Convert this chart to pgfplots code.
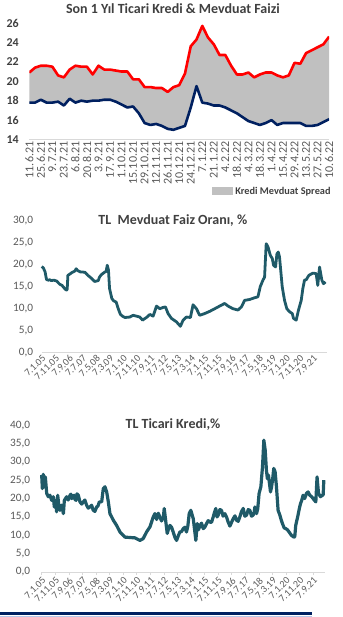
\documentclass[border=0pt]{standalone}
\usepackage{pgfplots}
\pgfplotsset{compat=1.18}
\usepgfplotslibrary{fillbetween}
\usepackage{pgfplotstable}
\usepackage{fontspec}
\setmainfont{Carlito}
\definecolor{spreadgray}{RGB}{192,192,192}
\definecolor{navyline}{RGB}{0,32,96}
\definecolor{teal}{RGB}{31,90,104}
\definecolor{titlegray}{RGB}{64,64,64}
\definecolor{labgray}{RGB}{89,89,89}
\definecolor{axgray}{RGB}{217,217,217}
\definecolor{barnavy}{RGB}{0,32,96}
\definecolor{barlight}{RGB}{180,198,231}

\pgfplotstableread{
k r b
0 20.9 17.8
1 21.4 17.8
2 21.6 18.1
3 21.6 17.8
4 21.5 17.8
5 20.6 17.9
6 20.4 17.5
7 21.2 18.2
8 21.6 17.8
9 21.5 18.0
10 21.5 17.9
11 20.7 18.0
12 21.6 18.0
13 21.2 18.1
14 21.2 18.1
15 21.1 17.9
16 21.0 17.6
17 21.0 17.3
18 20.2 17.4
19 20.2 16.7
20 19.4 15.7
21 19.4 15.5
22 19.3 15.6
23 19.3 15.4
24 18.9 15.1
25 19.4 15.0
26 19.6 15.2
27 20.8 15.4
28 23.6 17.3
29 24.3 19.5
30 25.7 17.8
31 24.5 17.7
32 23.8 17.5
33 22.7 17.5
34 22.7 17.3
35 21.6 17.0
36 20.7 16.7
37 20.7 16.3
38 20.9 15.9
39 20.4 15.7
40 20.7 15.5
41 20.9 15.7
42 20.9 16.0
43 20.6 15.5
44 20.4 15.7
45 20.6 15.7
46 21.9 15.7
47 21.8 15.7
48 22.9 15.4
49 23.2 15.4
50 23.5 15.5
51 23.8 15.8
52 24.6 16.1
}\tabA

\pgfplotstableread{
m v
0.0 19.6
1.2 19.3
2.5 18.4
3.4 16.9
3.7 16.6
5.0 16.5
6.1 16.6
7.0 16.4
9.0 16.5
11.0 16.3
13.2 15.6
15.0 15.3
16.9 14.6
18.1 14.2
18.8 14.4
19.3 17.6
20.8 17.9
22.1 18.2
24.5 18.6
25.4 19.1
26.5 18.7
28.2 18.4
31.9 18.3
34.0 17.6
36.8 16.9
39.0 16.2
41.7 16.4
42.6 17.2
44.1 17.8
46.3 18.3
47.5 18.5
48.3 19.9
49.2 18.8
50.0 14.6
51.7 12.3
53.0 11.8
54.9 11.5
56.4 10.0
58.0 8.7
60.0 8.2
61.3 8.0
64.9 8.1
67.4 8.5
69.9 8.3
72.3 8.1
74.3 7.4
77.2 8.0
79.7 8.7
82.1 8.3
84.6 10.6
87.0 10.0
89.5 10.3
91.2 10.4
93.1 8.9
95.6 7.8
99.3 7.0
102.2 6.0
104.2 7.4
106.6 8.1
109.6 8.0
111.5 10.9
114.0 10.0
116.4 8.5
120.1 8.9
123.8 9.4
127.5 10.0
131.1 10.6
134.8 11.2
137.3 10.6
140.9 10.0
144.6 9.7
147.1 10.4
149.5 11.9
153.2 12.1
156.9 12.5
159.3 12.7
161.0 15.0
163.0 16.5
164.2 17.2
165.4 24.8
166.7 24.1
168.4 22.2
169.9 21.4
170.8 19.9
172.3 19.5
173.3 22.5
174.3 22.9
175.2 21.8
177.2 15.0
178.9 11.9
180.6 10.0
182.6 9.3
184.6 8.9
185.5 7.8
187.5 7.4
189.2 9.7
191.2 11.9
192.4 14.6
193.6 16.5
194.9 16.6
196.8 17.6
199.8 18.1
202.2 18.0
203.4 15.3
204.7 19.5
206.4 16.5
207.6 15.7
209.1 16.1
}\tabB

\pgfplotstableread{
m v
0.0 26.4
0.5 22.7
1.2 26.6
2.0 23.2
2.7 25.9
3.7 21.4
4.9 20.5
6.1 20.9
7.4 19.5
8.6 20.5
9.3 17.7
10.3 19.5
11.0 16.4
11.8 20.9
12.5 18.6
13.5 16.8
14.7 18.2
16.0 15.9
16.7 19.5
18.4 20.5
19.5 19.6
20.9 20.9
21.5 21.2
22.1 20.0
23.8 20.9
24.5 19.8
25.3 19.5
26.0 21.3
27.0 20.9
28.2 19.1
29.5 18.5
30.7 19.1
31.8 19.6
33.1 18.2
34.3 17.4
35.6 17.7
36.8 18.2
38.0 16.8
39.2 16.5
40.5 17.7
41.5 18.0
42.5 19.1
44.2 19.1
45.4 22.7
46.6 23.2
47.9 21.8
49.1 19.1
50.3 15.9
52.8 14.1
55.2 12.7
57.7 10.9
61.3 9.5
65.0 9.4
68.7 9.3
72.4 8.6
74.8 9.1
77.3 10.9
79.8 12.3
82.2 15.0
83.4 15.9
84.7 14.3
85.9 16.0
87.1 15.0
88.3 13.9
89.6 14.8
90.3 17.3
91.5 13.6
92.5 10.5
93.5 11.8
94.5 12.7
95.7 12.2
96.9 10.9
98.2 9.4
99.4 8.6
100.6 9.8
101.8 10.9
103.0 11.0
104.3 11.8
105.5 12.2
106.7 10.9
107.7 12.5
108.7 15.9
109.9 16.8
111.7 14.5
113.6 8.6
114.6 13.2
115.6 11.5
116.6 12.7
117.8 13.3
119.0 11.8
120.2 12.2
121.5 13.2
122.7 14.0
123.9 13.6
125.1 13.5
126.4 15.0
127.3 16.2
128.3 17.3
129.2 15.0
130.1 15.5
131.3 17.0
132.5 16.8
133.7 15.2
135.0 15.9
136.2 15.0
137.4 13.6
138.7 12.5
140.0 13.6
141.1 14.5
142.4 15.3
143.6 14.1
144.8 13.8
146.0 15.0
147.2 16.4
148.5 17.3
149.7 15.2
151.0 15.5
152.2 17.0
153.4 16.8
154.6 15.2
155.8 15.5
156.5 16.2
157.1 17.7
158.3 15.9
159.2 17.2
160.2 21.4
161.5 23.2
162.7 28.6
163.7 35.9
164.7 33.2
165.6 27.7
166.3 25.4
167.1 26.4
168.6 21.8
169.3 23.0
170.1 25.0
171.0 28.2
172.0 27.3
173.0 23.2
174.2 16.8
175.5 15.5
176.5 14.2
177.4 13.2
178.7 12.0
179.9 11.8
181.1 11.5
182.3 10.9
184.0 10.0
185.8 9.5
186.5 9.6
187.2 12.7
188.9 15.5
189.8 17.2
190.7 18.6
191.6 19.5
192.6 20.9
193.8 20.0
195.1 21.4
196.3 21.8
197.5 20.9
198.7 20.6
200.0 20.0
201.0 19.5
202.0 19.1
202.9 25.9
204.0 21.4
205.4 20.5
206.9 20.9
207.4 21.0
207.9 25.0
}\tabC

\pgfplotsset{
  longdates/.style={
    xtick={0,10,...,200},
    xticklabels={7.1.05,7.11.05,7.9.06,7.7.07,7.5.08,7.3.09,7.1.10,7.11.10,7.9.11,7.7.12,7.5.13,7.3.14,7.1.15,7.11.15,7.9.16,7.7.17,7.5.18,7.3.19,7.1.20,7.11.20,7.9.21},
    xticklabel style={rotate=45, anchor=north east, inner sep=1pt, font=\fontsize{10}{10}\selectfont, text=labgray},
    yticklabel style={font=\fontsize{11.3}{12}\selectfont, text=labgray, xshift=-5pt},
    yticklabel style={/pgf/number format/.cd, fixed, fixed zerofill, precision=1, use comma},
    /pgf/number format/assume math mode=true,
    axis x line*=bottom, axis y line*=left,
    y axis line style={draw=none}, ytick style={draw=none},
    x axis line style={draw=axgray, line width=0.8pt},
    title style={font=\bfseries\fontsize{14}{14}\selectfont, text=titlegray, anchor=center},
    scale only axis, clip=false,
  }
}

\begin{document}
\begin{tikzpicture}

% Chart 1
\begin{axis}[
  at={(29.3pt,477.7pt)}, anchor=south west,
  scale only axis, width=300pt, height=116.6pt,
  xmin=0, xmax=52, ymin=14, ymax=26,
  ytick={14,16,...,26},
  xtick={0,2,...,52},
  xticklabels={11.6.21,25.6.21,9.7.21,23.7.21,6.8.21,20.8.21,3.9.21,17.9.21,1.10.21,15.10.21,29.10.21,12.11.21,26.11.21,10.12.21,24.12.21,7.1.22,21.1.22,4.2.22,18.2.22,4.3.22,18.3.22,1.4.22,15.4.22,29.4.22,13.5.22,27.5.22,10.6.22},
  xticklabel style={rotate=90, anchor=east, font=\fontsize{12}{12}\selectfont, text=labgray, inner sep=2pt},
  yticklabel style={font=\bfseries\fontsize{12}{12}\selectfont, text=titlegray, xshift=-7pt},
  /pgf/number format/assume math mode=true,
  axis x line*=bottom, axis y line*=left,
  y axis line style={draw=none}, ytick style={draw=none}, xtick style={draw=none},
  x axis line style={draw=axgray, line width=0.8pt},
  title={Son 1 Yıl Ticari Kredi \& Mevduat Faizi},
  title style={at={(axis description cs:0.479,1.0746)}, anchor=center, font=\bfseries\fontsize{14}{14}\selectfont, text=titlegray},
  legend style={at={(axis description cs:1.012,-0.443)}, anchor=east, draw=none, fill=none, font=\bfseries\fontsize{10.3}{11}\selectfont, text=titlegray, inner sep=0pt},
  legend cell align=left,
]
\addplot[draw=none, name path=R, forget plot] table[x=k,y=r] {\tabA};
\addplot[draw=none, name path=B, forget plot] table[x=k,y=b] {\tabA};
\addplot[fill=spreadgray, draw=none,
  legend image code/.code={\fill[spreadgray] (0pt,-4pt) rectangle (21pt,4pt);}]
  fill between[of=R and B];
\addlegendentry{Kredi Mevduat Spread}
\addplot[red, line width=2.6pt, forget plot, line join=round] table[x=k,y=r] {\tabA};
\addplot[navyline, line width=2.6pt, forget plot, line join=round] table[x=k,y=b] {\tabA};
\end{axis}

% Chart 2
\begin{axis}[
  longdates,
  at={(41.7pt,264.5pt)}, anchor=south west,
  width=285.2pt, height=131.8pt,
  xmin=0, xmax=210, ymin=0, ymax=30,
  ytick={0,5,...,30},
  xtick style={draw=none},
  title={TL\ \ Mevduat Faiz Oranı, \%},
  title style={at={(axis description cs:0.460,0.9545)}},
]
\addplot[teal, line width=2.8pt, line join=round] table[x=m,y=v] {\tabB};
\end{axis}

% Chart 3
\begin{axis}[
  longdates,
  at={(41.7pt,45pt)}, anchor=south west,
  width=283.1pt, height=147pt,
  xmin=0, xmax=208.5, ymin=0, ymax=40,
  ytick={0,5,...,40},
  xtick style={draw=axgray, line width=0.6pt},
  tick align=outside, major tick length=3pt,
  title={TL Ticari Kredi,\%},
  title style={at={(axis description cs:0.464,0.966)}},
]
\addplot[teal, line width=3.2pt, line join=round] table[x=m,y=v] {\tabC};
\end{axis}

\fill[barnavy] (0pt,2.2pt) rectangle (312pt,4.6pt);
\fill[barlight] (0pt,0pt) rectangle (312pt,1.4pt);
\path (0pt,0pt) rectangle (343pt,617pt);
\end{tikzpicture}
\end{document}
